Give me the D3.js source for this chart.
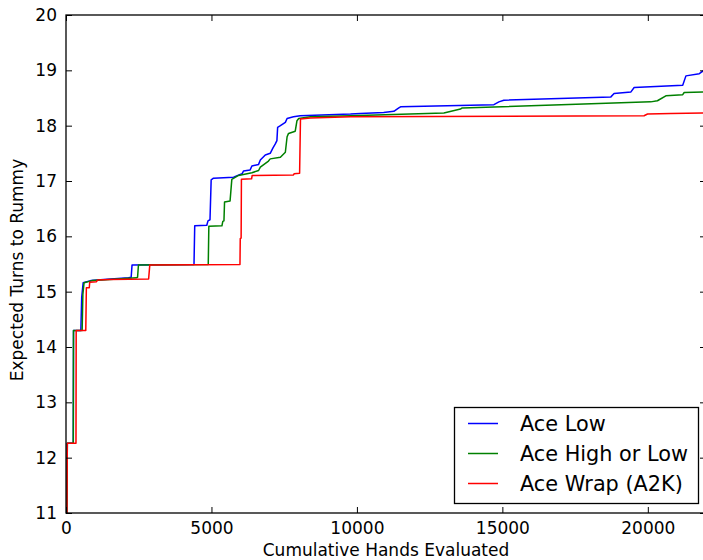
<!DOCTYPE html>
<html>
<head>
<meta charset="utf-8">
<script src="https://cdn.jsdelivr.net/npm/d3@7"></script>
<style>
  html, body { margin: 0; padding: 0; background: #fff; }
  svg { display: block; }
  text { font-family: "DejaVu Sans", sans-serif; fill: #000; }
</style>
</head>
<body>
<svg id="chart" width="703" height="560"></svg>
<script>
// Sorted expected turns to rummy, one curve per ace rule: [cumulative hands, expected turns]
const aceLow = [
  [30, 10.8], [45, 12.26], [250, 12.26], [258, 14.30], [510, 14.30], [540, 14.90], [590, 15.16],
  [850, 15.20], [1300, 15.22], [2150, 15.25], [2240, 15.26], [2270, 15.48], [4400, 15.49],
  [4425, 16.19], [4840, 16.20], [4880, 16.28], [4950, 16.30], [4990, 17.02], [5070, 17.05],
  [5760, 17.07], [6050, 17.13], [6100, 17.18], [6330, 17.20], [6390, 17.27], [6620, 17.30],
  [6680, 17.38], [6850, 17.47], [7020, 17.50], [7115, 17.60], [7195, 17.67], [7250, 17.73],
  [7275, 17.97], [7370, 18.00], [7540, 18.06], [7600, 18.13], [7820, 18.16], [8050, 18.18],
  [9780, 18.21], [10120, 18.22], [10920, 18.24], [11270, 18.26], [11440, 18.32], [11500, 18.34],
  [14710, 18.38], [14880, 18.43], [15050, 18.46], [18730, 18.52], [18840, 18.58], [19420, 18.61],
  [19530, 18.69], [21200, 18.73], [21310, 18.90], [21770, 18.94], [21930, 19.00], [22000, 19.02]
];
const aceHighOrLow = [
  [30, 10.8], [45, 12.26], [250, 12.26], [258, 14.30], [555, 14.30], [580, 14.95], [620, 15.16],
  [900, 15.20], [1500, 15.22], [2420, 15.25], [2460, 15.26], [2490, 15.48], [4890, 15.49],
  [4910, 16.18], [5360, 16.19], [5390, 16.27], [5430, 16.28], [5450, 16.62], [5640, 16.64],
  [5700, 17.03], [5930, 17.10], [6390, 17.15], [6620, 17.19], [6680, 17.25], [6960, 17.36],
  [7020, 17.40], [7370, 17.43], [7540, 17.52], [7600, 17.80], [7650, 17.86], [7880, 17.90],
  [7940, 18.09], [8000, 18.13], [8400, 18.16], [9780, 18.18], [12990, 18.23], [13560, 18.30],
  [13620, 18.32], [17800, 18.39], [20100, 18.43], [20330, 18.45], [20620, 18.54], [21200, 18.56],
  [21250, 18.60], [22000, 18.61]
];
const aceWrap = [
  [30, 10.8], [45, 12.26], [343, 12.26], [350, 14.30], [680, 14.30], [700, 15.07], [800, 15.07],
  [815, 15.17], [1050, 15.18], [1080, 15.21], [1500, 15.22], [2840, 15.23], [2880, 15.48],
  [5980, 15.49], [5990, 15.96], [6020, 15.97], [6030, 17.03], [6380, 17.04], [6400, 17.10],
  [7820, 17.11], [7840, 17.13], [8030, 17.14], [8060, 18.12], [8400, 18.14], [9780, 18.16],
  [19870, 18.18], [19990, 18.21], [20790, 18.22], [22000, 18.23]
];

const seriesNames = ["Ace Low", "Ace High or Low", "Ace Wrap (A2K)"];
const seriesColors = ["#0000ff", "#008000", "#ff0000"];
const xTicks = [0, 5000, 10000, 15000, 20000];
const yTicks = [11, 12, 13, 14, 15, 16, 17, 18, 19, 20];
const xLabel = "Cumulative Hands Evaluated";
const yLabel = "Expected Turns to Rummy";

const svg = d3.select("#chart");
const plotLeft = 66, plotRight = 706, plotTop = 15, plotBottom = 513;

const x = d3.scaleLinear().domain([0, 22000]).range([plotLeft, plotRight]);
const y = d3.scaleLinear().domain([11, 20]).range([plotBottom, plotTop]);

svg.append("defs").append("clipPath").attr("id", "plot-clip")
  .append("rect").attr("x", plotLeft).attr("y", plotTop)
  .attr("width", plotRight - plotLeft).attr("height", plotBottom - plotTop);

// Curves
const line = d3.line().x(d => x(d[0])).y(d => y(d[1]));
const plot = svg.append("g").attr("clip-path", "url(#plot-clip)");
[aceLow, aceHighOrLow, aceWrap].forEach((data, i) => {
  plot.append("path")
    .datum(data)
    .attr("d", line)
    .attr("fill", "none")
    .attr("stroke", seriesColors[i])
    .attr("stroke-width", 1.5)
    .attr("stroke-linejoin", "round");
});

// Axes with inward ticks on all four sides
const fontSize = 17;
function styleAxis(g, showLabels) {
  g.select(".domain").remove();
  g.selectAll(".tick line").attr("stroke", "#000").attr("stroke-width", 1);
  if (showLabels) {
    g.selectAll(".tick text").style("font-size", fontSize + "px").attr("fill", "#000");
  } else {
    g.selectAll(".tick text").remove();
  }
}

svg.append("g").attr("transform", `translate(0,${plotBottom})`)
  .call(d3.axisBottom(x).tickValues(xTicks).tickFormat(d3.format("d"))
    .tickSizeInner(-6).tickSizeOuter(0).tickPadding(9))
  .call(g => styleAxis(g, true));

svg.append("g").attr("transform", `translate(0,${plotTop})`)
  .call(d3.axisTop(x).tickValues(xTicks).tickSizeInner(-6).tickSizeOuter(0))
  .call(g => styleAxis(g, false));

svg.append("g").attr("transform", `translate(${plotLeft},0)`)
  .call(d3.axisLeft(y).tickValues(yTicks).tickFormat(d3.format("d"))
    .tickSizeInner(-6).tickSizeOuter(0).tickPadding(9))
  .call(g => styleAxis(g, true));

svg.append("g").attr("transform", `translate(${plotRight},0)`)
  .call(d3.axisRight(y).tickValues(yTicks).tickSizeInner(-6).tickSizeOuter(0))
  .call(g => styleAxis(g, false));

// Frame
svg.append("rect")
  .attr("x", plotLeft).attr("y", plotTop)
  .attr("width", plotRight - plotLeft).attr("height", plotBottom - plotTop)
  .attr("fill", "none").attr("stroke", "#000").attr("stroke-width", 1.3);

// Axis titles
svg.append("text")
  .attr("x", (plotLeft + plotRight) / 2).attr("y", 556)
  .attr("text-anchor", "middle")
  .style("font-size", fontSize + "px")
  .text(xLabel);

svg.append("text")
  .attr("transform", `translate(23,${(plotTop + plotBottom) / 2 + 6}) rotate(-90)`)
  .attr("text-anchor", "middle")
  .style("font-size", fontSize + "px")
  .text(yLabel);

// Legend
const legend = svg.append("g");
legend.append("rect")
  .attr("x", 454.5).attr("y", 407.5).attr("width", 244).attr("height", 96)
  .attr("fill", "#fff").attr("stroke", "#000").attr("stroke-width", 1.3);
seriesNames.forEach((name, i) => {
  const ly = 423.5 + i * 30;
  legend.append("line")
    .attr("x1", 468).attr("x2", 498).attr("y1", ly).attr("y2", ly)
    .attr("stroke", seriesColors[i]).attr("stroke-width", 1.5);
  legend.append("text")
    .attr("x", 520).attr("y", ly + 7.5)
    .style("font-size", "20.8px")
    .text(name);
});
</script>
</body>
</html>
